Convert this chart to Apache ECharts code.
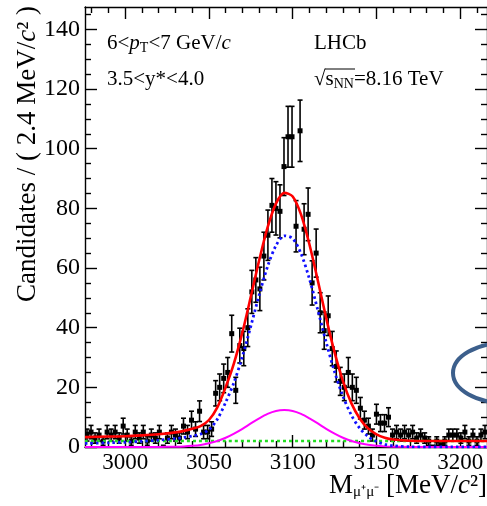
<!DOCTYPE html>
<html><head><meta charset="utf-8">
<script src="https://cdn.jsdelivr.net/npm/echarts@6/dist/echarts.min.js"></script>
<style>html,body{margin:0;padding:0;background:#fff}#c{width:487px;height:506px}</style>
</head><body><div id="c"></div>
<script>
// Bin centres (2.4 MeV bins) and candidate counts
const massBins = [2977.2,2979.6,2982.0,2984.4,2986.8,2989.2,2991.6,2994.0,2996.4,2998.8,
3001.2,3003.6,3006.0,3008.4,3010.8,3013.2,3015.6,3018.0,3020.4,3022.8,
3025.2,3027.6,3030.0,3032.4,3034.8,3037.2,3039.6,3042.0,3044.4,3046.8,
3049.2,3051.6,3054.0,3056.4,3058.8,3061.2,3063.6,3066.0,3068.4,3070.8,
3073.2,3075.6,3078.0,3080.4,3082.8,3085.2,3087.6,3090.0,3092.4,3094.8,
3097.2,3099.6,3102.0,3104.4,3106.8,3109.2,3111.6,3114.0,3116.4,3118.8,
3121.2,3123.6,3126.0,3128.4,3130.8,3133.2,3135.6,3138.0,3140.4,3142.8,
3145.2,3147.6,3150.0,3152.4,3154.8,3157.2,3159.6,3162.0,3164.4,3166.8,
3169.2,3171.6,3174.0,3176.4,3178.8,3181.2,3183.6,3186.0,3188.4,3190.8,
3193.2,3195.6,3198.0,3200.4,3202.8,3205.2,3207.6,3210.0,3212.4,3214.8];
const candidates = [4,5,3,4,2,5,4,5,3,7,
4,2,5,3,5,2,4,3,5,0,
3,5,4,3,7,5,9,6,12,5,
5,6,18,20,23,25,38,19,34,33,
40,52,56,53,64,71,81,80,79,94,
104,104,74,106,73,78,55,65,45,39,
44,33,27,22,20,25,20,19,13,9,
7,4,11,8,8,10,4,5,4,5,
4,5,3,4,3,2,0,2,1,2,
4,4,4,3,5,2,4,2,4,5];

// Fit curves
const curveMass = [2976,2990,3000,3010,3020,3030,3035,3040,3045,3050,3055,3060,3065,3070,3075,3080,3085,3090,3095,3100,3105,3110,3115,3120,3125,3130,3135,3140,3145,3150,3155,3160,3170,3180,3195,3216];
const totalFit = [3.3,3.5,3.6,3.9,4.3,4.9,5.4,6.1,7.0,9.05,13.3,20.1,28.2,38.5,50.4,62.6,73.6,81.6,85.2,84.0,77.9,67.9,55.8,43.2,31.7,22.1,14.7,9.55,6.23,4.25,3.11,2.5,2.09,2.0,2.0,2.0];
const signalFit = [1.2,1.4,1.6,1.9,2.3,2.8,3.2,3.7,4.3,5.8,9.3,15,21.7,30.4,40.5,51,60.5,67.5,70.8,69.9,64.8,56.3,45.9,35.1,25.2,17,10.7,6.3,3.5,1.85,0.9,0.4,0.07,0,0,0];
const fromBFit = [0,0,0,0.01,0.02,0.1,0.2,0.4,0.7,1.25,2.0,3.1,4.5,6.1,7.9,9.6,11.1,12.1,12.4,12.1,11.1,9.6,7.9,6.1,4.5,3.1,2.0,1.25,0.73,0.4,0.21,0.1,0.02,0,0,0];
const bkgMass = [2976,3216];
const bkgFit = [2.0,2.0];

// Axes
const xMajorTicks = [3000,3050,3100,3150,3200];
const xMinorTicks = [2980,2990,3010,3020,3030,3040,3060,3070,3080,3090,3110,3120,3130,3140,3160,3170,3180,3190,3210];
const yMajorTicks = [0,20,40,60,80,100,120,140];
const yMinorTicks = [5,10,15,25,30,35,45,50,55,65,70,75,85,90,95,105,110,115,125,130,135,145];

const FONT = '"Liberation Serif","Times New Roman",serif';
const chart = echarts.init(document.getElementById('c'), null, {renderer:'canvas'});
const axisLineStyle = {color:'#000', width:1.4};

function xAx(pos, major, withLine){
  return {type:'value', min:2976, max:3216, position:pos, gridIndex:0,
    axisLine:{show:withLine, onZero:false, lineStyle:axisLineStyle},
    axisTick:{show:true, inside:true, length: major?12:6, customValues: major?xMajorTicks:xMinorTicks, lineStyle:axisLineStyle},
    axisLabel: (pos==='bottom' && major) ? {show:true, customValues:xMajorTicks, formatter:(v)=>String(v), color:'#000', fontFamily:FONT, fontSize:23, margin:4} : {show:false},
    splitLine:{show:false}, minorTick:{show:false}};
}
function yAx(pos, major, withLine){
  return {type:'value', min:0, max:147.5, position:pos, gridIndex:0,
    axisLine:{show:withLine, onZero:false, lineStyle:axisLineStyle},
    axisTick:{show:true, inside:true, length: major?12:6, customValues: major?yMajorTicks:yMinorTicks, lineStyle:axisLineStyle},
    axisLabel: (pos==='left' && major) ? {show:true, customValues:yMajorTicks, formatter:(v)=>String(v), color:'#000', fontFamily:FONT, fontSize:24, margin:5} : {show:false},
    splitLine:{show:false}, minorTick:{show:false}};
}

function renderErr(params, api){
  const x = api.value(0), y = api.value(1), e = api.value(2);
  const c = api.coord([x, y]);
  const lo = api.coord([x, y - e]);
  const hi = api.coord([x, y + e]);
  const st = {stroke:'#000', lineWidth:1.6};
  const ch = [];
  if (e > 0) {
    ch.push({type:'line', shape:{x1:c[0], y1:lo[1], x2:c[0], y2:hi[1]}, style:st});
    ch.push({type:'line', shape:{x1:c[0]-2.5, y1:lo[1], x2:c[0]+2.5, y2:lo[1]}, style:st});
    ch.push({type:'line', shape:{x1:c[0]-2.5, y1:hi[1], x2:c[0]+2.5, y2:hi[1]}, style:st});
  }
  ch.push({type:'rect', shape:{x:c[0]-2.5, y:c[1]-2.5, width:5, height:5}, style:{fill:'#000'}});
  return {type:'group', children:ch};
}

const zip = (xs, ys) => xs.map((v,i)=>[v, ys[i]]);
const lineSeries = (name, xs, ys, color, width, type, z) => ({
  name, type:'line', xAxisIndex:0, yAxisIndex:0, data:zip(xs, ys), symbol:'none',
  smooth:0.3, lineStyle:{color, width, type}, z, animation:false, silent:true
});

const textStyleBase = {fill:'#000', fontFamily:FONT};
chart.setOption({
  animation:false,
  backgroundColor:'#fff',
  grid:{left:85, top:7, width:402, height:440, containLabel:false, outerBoundsMode:'none'},
  xAxis:[xAx('bottom',true,true), xAx('bottom',false,false), xAx('top',true,true), xAx('top',false,false)],
  yAxis:[yAx('left',true,true), yAx('left',false,false), yAx('right',true,true), yAx('right',false,false)],
  series:[
    {type:'custom', name:'Data', xAxisIndex:0, yAxisIndex:0, renderItem:renderErr, clip:true,
     data: massBins.map((m,i)=>[m, candidates[i], Math.sqrt(candidates[i])]), encode:{x:0, y:1}, z:2},
    lineSeries('Background', bkgMass, bkgFit, '#22dd22', 2.4, [3,3], 3),
    lineSeries('From b', curveMass, fromBFit, '#ff00ff', 2, 'solid', 4),
    lineSeries('Signal', curveMass, signalFit, '#1010ff', 2.8, [2.5,3], 5),
    lineSeries('Total fit', curveMass, totalFit, '#ff0000', 2.6, 'solid', 6)
  ],
  graphic:[
    {type:'text', x:107, y:43, style:Object.assign({}, textStyleBase, {
      text:'{n|6<}{i|p}{s|T}{n|<7 GeV/}{i|c}', verticalAlign:'middle',
      rich:{n:{fontSize:21, fontFamily:FONT}, i:{fontSize:21, fontFamily:FONT, fontStyle:'italic'}, s:{fontSize:14, fontFamily:FONT, padding:[10,0,0,0]}}})},
    {type:'text', x:107, y:79, style:Object.assign({}, textStyleBase, {
      text:'3.5<y*<4.0', fontSize:21, verticalAlign:'middle'})},
    {type:'text', x:314, y:43, style:Object.assign({}, textStyleBase, {
      text:'LHCb', fontSize:21, verticalAlign:'middle'})},
    {type:'text', x:314, y:79, style:Object.assign({}, textStyleBase, {
      text:'{n|√s}{s|NN}{n|=8.16 TeV}', verticalAlign:'middle',
      rich:{n:{fontSize:21, fontFamily:FONT}, s:{fontSize:14, fontFamily:FONT, padding:[10,0,0,0]}}})},
    {type:'line', shape:{x1:325, y1:69, x2:355, y2:69}, style:{stroke:'#000', lineWidth:1}},
    {type:'text', x:28, y:154, rotation:Math.PI/2, style:Object.assign({}, textStyleBase, {
      text:'{n|Candidates / ( 2.4 MeV/}{i|c}{n|² )}', align:'center', verticalAlign:'middle',
      rich:{n:{fontSize:27, fontFamily:FONT}, i:{fontSize:27, fontFamily:FONT, fontStyle:'italic'}}})},
    {type:'text', x:487, y:486, style:Object.assign({}, textStyleBase, {
      text:'{n|M}{s|μ⁺μ⁻}{n| [MeV/}{i|c}{n|²]}', align:'right', verticalAlign:'middle',
      rich:{n:{fontSize:27, fontFamily:FONT}, i:{fontSize:27, fontFamily:FONT, fontStyle:'italic'}, s:{fontSize:15, fontFamily:FONT, padding:[12,0,0,0]}}})},
    {type:'ellipse', shape:{cx:505, cy:373, rx:52, ry:30}, style:{fill:null, stroke:'#3c5f8c', lineWidth:4}, z:100}
  ]
});
</script></body></html>
